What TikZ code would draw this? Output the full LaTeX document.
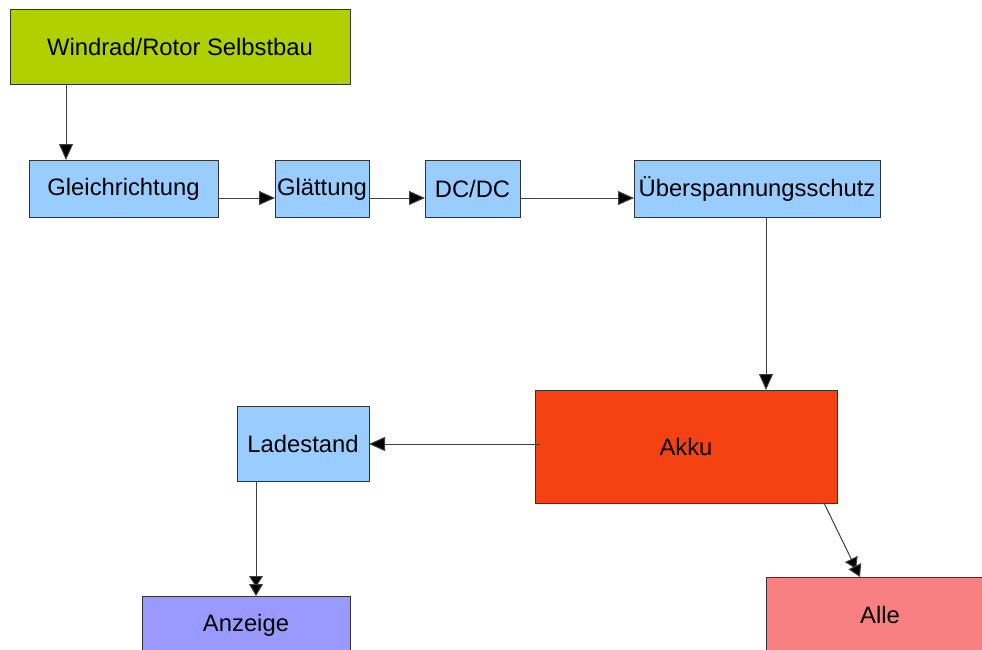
\documentclass[tikz,border=0pt]{standalone}
\usepackage{fontspec}
\setmainfont{Liberation Sans}
\usetikzlibrary{arrows.meta}
\definecolor{wind}{HTML}{B0D000}
\definecolor{lblue}{HTML}{99CCFF}
\definecolor{akku}{HTML}{F54212}
\definecolor{anz}{HTML}{9999FF}
\definecolor{alle}{HTML}{F88080}
\definecolor{edge}{HTML}{333333}
\begin{document}
\begin{tikzpicture}[x=1pt,y=-1pt,
  lbl/.style={font=\fontsize{23.8}{28}\selectfont,inner sep=0pt},
  blk/.style={draw=edge,line width=0.9pt},
  conn/.style={draw=black!75,line width=1pt,-{Triangle[length=16pt,width=14pt,fill=black]}},
  dconn/.style={draw=black!75,line width=1pt,-{Triangle[length=11pt,width=14pt,fill=black,sep=-3pt]Triangle[length=12pt,width=14pt,fill=black]}}]
\useasboundingbox (0,0) rectangle (982,649);
\clip (0,0) rectangle (982,649);
\fill[white] (0,0) rectangle (982,649);
% boxes
\draw[blk,fill=wind] (10,9) rectangle (350,84);
\node[lbl] (wind) at (180,47) {Windrad/Rotor Selbstbau};
\draw[blk,fill=lblue] (29,160) rectangle (218,217);
\node[lbl] (gl) at (123.5,189) {Gleichrichtung};
\draw[blk,fill=lblue] (275,160) rectangle (369,217);
\node[lbl] (gt) at (322,189) {Glättung};
\draw[blk,fill=lblue] (425,160) rectangle (520,217);
\node[lbl] (dc) at (472.5,189) {DC/DC};
\draw[blk,fill=lblue] (634,160) rectangle (880,217);
\node[lbl] (ue) at (757,189) {Überspannungsschutz};
\draw[blk,fill=akku] (535,390) rectangle (837,503);
\node[lbl] (ak) at (686,447) {Akku};
\draw[blk,fill=lblue] (237,406) rectangle (369,481);
\node[lbl] (ld) at (303,444) {Ladestand};
\draw[blk,fill=anz] (142,596) rectangle (350,660);
\node[lbl] (an) at (246,625) {Anzeige};
\draw[blk,fill=alle] (766,577) rectangle (990,660);
\node[lbl] (al) at (880,615) {Alle};
% coordinates for connector ends
\coordinate (w1) at (66,84); \coordinate (g1) at (66,160);
\coordinate (g2) at (218,198); \coordinate (t1) at (275,198);
\coordinate (t2) at (369,198); \coordinate (d1) at (425,198);
\coordinate (d2) at (520,198); \coordinate (u1) at (634,198);
\coordinate (u2) at (766,217); \coordinate (a1) at (766,390);
\coordinate (a2) at (540,444); \coordinate (l1) at (369,444);
\coordinate (l2) at (256,481); \coordinate (n1) at (256,596);
\coordinate (a3) at (824,503); \coordinate (e1) at (860,577);
\draw[conn] (w1) -- (g1);
\draw[conn] (g2) -- (t1);
\draw[conn] (t2) -- (d1);
\draw[conn] (d2) -- (u1);
\draw[conn] (u2) -- (a1);
\draw[conn] (a2) -- (l1);
\draw[dconn] (l2) -- (n1);
\draw[dconn] (a3) -- (e1);
\end{tikzpicture}
\end{document}
